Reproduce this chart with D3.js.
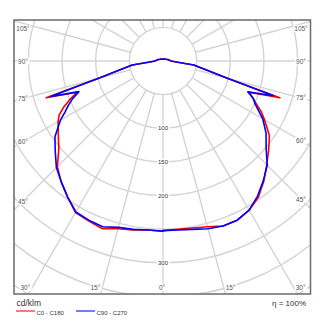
<!DOCTYPE html>
<html>
<head>
<meta charset="utf-8">
<script src="https://cdn.jsdelivr.net/npm/d3@7/dist/d3.min.js"></script>
<style>
html,body{margin:0;padding:0;background:#fff;}
svg{display:block;font-family:"Liberation Sans",Arial,sans-serif;}
</style>
</head>
<body>
<svg id="chart" width="326" height="329"></svg>
<script>
// gamma angles (degrees from nadir)
const gammas = [0,5,10,15,20,25,30,35,40,45,50,55,60,62.5,65,67.5,70,72.5,75,77.5,80,82.5,85,90,105,120,135,150,165,180];
// C0 - C180 plane (red): right half C0, left half C180
const c0Values   = [252,251,252,255,261,261,256,247,233,218,205,193,174,165,154,145,136,182,100,71,56,46,22,12,8,5,4,3,3,3];
const c180Values = [253,252,255,258,265,262,260,247,235,222,202,190,180,174,163,150,136,182,100,71,56,46,22,12,8,5,4,3,3,3];
// C90 - C270 plane (blue): right half C90, left half C270
const c90Values  = [252,252,254,258,261,261,256,245,232,219,200,187,171,160,151,145,134,172,100,71,56,46,22,12,8,5,4,3,3,3];
const c270Values = [253,252,254,256,262,261,259,247,235,224,209,196,176,164,155,145,133,175,100,71,56,46,22,12,8,5,4,3,3,3];

const ringValues = [50,100,150,200,250,300,350,400];
const ringLabels = [100,150,200,300];
const rayAngles = d3.range(0,360,15);
const sideAngleLabels = [45,60,75,90,105];
const bottomAngleLabels = [0,15,30];
const legendItems = ["C0 - C180","C90 - C270"];
const colors = ["#ff0000","#0000ff"];
const unitLabel = "cd/klm";
const etaLabel = "η = 100%";

const svg = d3.select("#chart");
const W = 326, H = 329;
const box = {x0:14, y0:20, x1:310.5, y1:294};
const cx = 163, cy = 61;
const r = d3.scaleLinear().domain([0,400]).range([0,269.2]);

svg.append("defs").append("clipPath").attr("id","clip")
  .append("rect").attr("x",box.x0).attr("y",box.y0)
  .attr("width",box.x1-box.x0).attr("height",box.y1-box.y0);

const g = svg.append("g").attr("clip-path","url(#clip)");
const grid = g.append("g").attr("transform",`translate(${cx},${cy})`);

// rings
grid.selectAll("circle.ring").data(ringValues).enter().append("circle")
  .attr("r", d=>r(d)).attr("fill","none").attr("stroke","#d4d4d4").attr("stroke-width",1.4);

// rays
grid.selectAll("line.ray").data(rayAngles).enter().append("line")
  .attr("x1", d=>r(50)*Math.sin(d*Math.PI/180))
  .attr("y1", d=>r(50)*Math.cos(d*Math.PI/180))
  .attr("x2", d=>r(600)*Math.sin(d*Math.PI/180))
  .attr("y2", d=>r(600)*Math.cos(d*Math.PI/180))
  .attr("stroke","#d4d4d4").attr("stroke-width",1.4);

// label helper with white background
function label(parent, x, y, text, size, color){
  const gg = parent.append("g");
  const t = gg.append("text").attr("x",x).attr("y",y)
    .attr("text-anchor","middle").attr("dominant-baseline","central")
    .attr("font-size",size).attr("fill",color).text(text);
  const bb = t.node().getBBox();
  gg.insert("rect","text").attr("x",bb.x-1).attr("y",bb.y).attr("width",bb.width+2).attr("height",bb.height)
    .attr("fill","#fff");
}

// ring value labels
ringLabels.forEach(v=> label(g, cx, cy + r(v), String(v), 6, "#333"));

// angle labels - sides
sideAngleLabels.forEach(a=>{
  const rad = a*Math.PI/180;
  [[-1,140],[1,138]].forEach(([s,d])=>{
    let y = cy + d*Math.cos(rad)/Math.sin(rad);
    y = Math.max(y, 28.3);
    label(g, cx + s*d, y, a+"°", 6.5, "#555");
  });
});
// angle labels - bottom
bottomAngleLabels.forEach(a=>{
  const rad = a*Math.PI/180;
  const y = 287.3;
  if(a===0){ label(g, cx-1, y, "0°", 6.5, "#555"); return; }
  const dx = (y-cy)*Math.tan(rad) + 7;
  label(g, cx - dx, y, a+"°", 6.5, "#555");
  label(g, cx + dx, y, a+"°", 6.5, "#555");
});

// curves
const line = d3.lineRadial().angle(d=>d[0]).radius(d=>r(d[1]));
function fullCurve(leftVals, rightVals){
  const pts = [];
  for(let i=gammas.length-1;i>=0;i--) pts.push([Math.PI + gammas[i]*Math.PI/180, leftVals[i]]);
  for(let i=0;i<gammas.length;i++) pts.push([Math.PI - gammas[i]*Math.PI/180, rightVals[i]]);
  return pts;
}
const curves = g.append("g").attr("transform",`translate(${cx},${cy})`);
[[c180Values,c0Values],[c270Values,c90Values]].forEach((pair,i)=>{
  curves.append("path").attr("d", line(fullCurve(pair[0],pair[1])))
    .attr("fill","none").attr("stroke",colors[i]).attr("stroke-width",1.6)
    .attr("stroke-linejoin","round");
});

// frame
svg.append("rect").attr("x",box.x0).attr("y",box.y0)
  .attr("width",box.x1-box.x0).attr("height",box.y1-box.y0)
  .attr("fill","none").attr("stroke","#6a6a6a").attr("stroke-width",1.5);

// bottom texts
svg.append("text").attr("x",16.5).attr("y",306).attr("font-size",8.5).attr("fill","#333").text(unitLabel);
svg.append("text").attr("x",306).attr("y",306).attr("text-anchor","end").attr("font-size",8).attr("fill","#333").text(etaLabel);

// legend
const legX = [16,76];
legendItems.forEach((t,i)=>{
  svg.append("line").attr("x1",legX[i]).attr("x2",legX[i]+19).attr("y1",311).attr("y2",311)
    .attr("stroke",colors[i]).attr("stroke-width",1.4).attr("opacity",0.75);
  svg.append("text").attr("x",legX[i]+20.5).attr("y",315).attr("font-size",6).attr("fill","#333").text(t);
});
</script>
</body>
</html>
